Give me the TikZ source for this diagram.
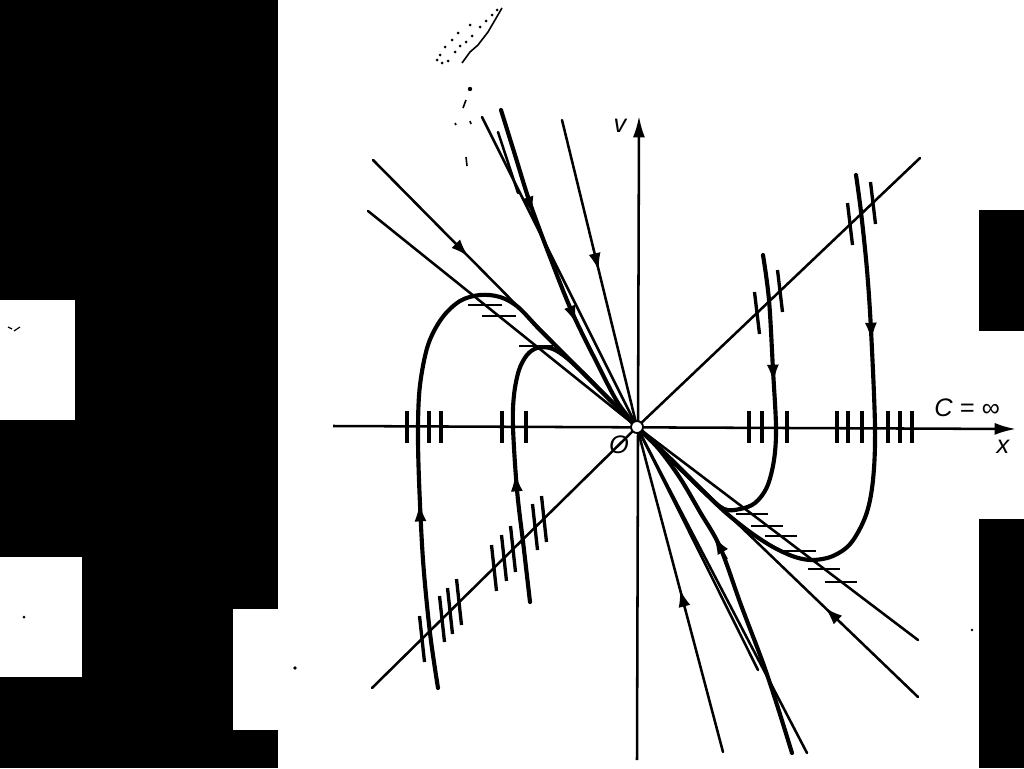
\documentclass[tikz,border=0pt]{standalone}
\usepackage{fontspec}
\newfontfamily\labfont{Liberation Sans}
\usetikzlibrary{arrows.meta,calc}
\begin{document}
\begin{tikzpicture}[x=0.75pt,y=-0.75pt,
  thinline/.style={line width=1.9pt,line cap=round},
  thickcurve/.style={line width=3.1pt,line cap=round,line join=round},
  axisline/.style={line width=1.9pt},
  vtick/.style={line width=2.5pt},
  htick/.style={line width=2.1pt},
  tipmark/.style={line width=1.4pt,-{Latex[length=13pt,width=9pt]}},
  axtip/.style={-{Latex[length=16pt,width=9pt]}},
  lab/.style={font=\labfont\fontsize{19}{22}\selectfont\itshape, inner sep=0pt},
  speck/.style={fill=black}]
\useasboundingbox (0,0) rectangle (1024,768);
% scan borders
\fill[black] (0,0) rectangle (278,768);
\fill[white] (0,300) rectangle (75,420);
\fill[white] (0,557) rectangle (82,677);
\fill[white] (233,609) rectangle (278,730);
\fill[black] (979,210) rectangle (1024,331);
\fill[black] (979,519) rectangle (1024,768);
% specks
\draw[line width=0.9pt] (8,327) -- (12,329) (14,331) -- (20,327);
\fill[speck] (24,617) circle (1.5);
\fill[speck] (295,668) circle (1.8);
\fill[speck] (972,630) circle (1.3);
\draw[line width=1.2pt] (462,63) -- (470,52) -- (478,45) -- (488,32) -- (495,20) -- (502,8);
\foreach \p in {(440,55),(445,47),(452,40),(458,33),(448,61),(455,52),(466,42),(472,36),(480,27),(486,21),(492,15),(497,10),(442,63),(470,25),(437,60),(460,46)}
  \fill[speck] \p circle (1.5);
\fill[speck] (470,89) circle (2.2);
\draw[line width=1.2pt] (466,100) -- (463,108) (455,123) -- (456,125) (470,121) -- (471,124) (466,157) -- (467,166);
% coordinates
\coordinate (o) at (637,427);
\coordinate (xl) at (333,426);
\coordinate (xr) at (1016,429);
\coordinate (vb) at (637,760);
\coordinate (vt) at (639,116);
\coordinate (d1) at (372,688);
\coordinate (d2) at (920,158);
\coordinate (a1) at (373,160);
\coordinate (a2) at (918,697);
\coordinate (b1) at (368,211);
\coordinate (b2) at (918,640);
\coordinate (t1) at (482,117);
\coordinate (t2) at (501,110);
\coordinate (t3) at (498,132);
\coordinate (t3e) at (518,193);
\coordinate (t4) at (562,120);
\coordinate (q1) at (723,752);
\coordinate (q2) at (792,753);
\coordinate (q3) at (807,753);
\coordinate (q4) at (758,670);
\coordinate (c1s) at (438,688);
\coordinate (c2s) at (530,602);
\coordinate (c3s) at (763,255);
\coordinate (c4s) at (856,175);
% axes
\draw[axisline,axtip] (xl) -- (xr);
\draw[axisline,axtip] (vb) -- (vt);
% isoclines and straight lines
\draw[thinline] (d1) -- (o) -- (d2);
\draw[thinline] (b1) -- (o) -- (b2);
\draw[thinline] (a1) -- (o) -- (a2);
\draw[thinline] (t1) -- (o);
\draw[thinline] (t3) -- (t3e);
\draw[thinline] (t4) -- (o);
\draw[thinline] (q1) -- (o);
\draw[thinline] (q3) -- (o);
\draw[thinline] (q4) -- (o);
% trajectories
\draw[thickcurve] plot[smooth,tension=0.55] coordinates {(t2) (515,155) (530,203) (550,257) (572,312) (598,365) (618,403) (o)};
\draw[thickcurve] plot[smooth,tension=0.55] coordinates {(q2) (778,708) (763,663) (741,605) (720,547) (700,512) (680,478) (658,448) (o)};
\draw[thickcurve] plot[smooth,tension=0.55] coordinates {(c1s) (430,633) (423,560) (419,480) (418,427) (420,385) (428,345) (442,318) (460,301) (480,295) (500,297) (518,307) (540,330) (570,360) (600,390) (o)};
\draw[thickcurve] plot[smooth,tension=0.55] coordinates {(c2s) (524,550) (517,490) (513,427) (514,395) (519,370) (527,355) (537,348) (550,348) (563,355) (580,370) (605,395) (o)};
\draw[thickcurve] plot[smooth,tension=0.55] coordinates {(c3s) (769,300) (773,370) (776,427) (774,460) (767,487) (755,503) (740,509) (724,509) (705,493) (675,463) (o)};
\draw[thickcurve] plot[smooth,tension=0.55] coordinates {(c4s) (861,212) (867,270) (871,330) (875,427) (873,480) (866,515) (851,543) (833,556) (813,560) (795,557) (773,547) (750,532) (725,512) (700,488) (670,459) (o)};
% direction arrows
\draw[tipmark] ($(a1)!0.30!(o)$) -- ($(a1)!0.36!(o)$);
\draw[tipmark] ($(o)!0.73!(a2)$) -- ($(o)!0.67!(a2)$);
\draw[tipmark] ($(t4)!0.42!(o)$) -- ($(t4)!0.49!(o)$);
\draw[tipmark] ($(q1)!0.43!(o)$) -- ($(q1)!0.50!(o)$);
\draw[tipmark] (524,186) -- (533,214);
\draw[tipmark] (566,297) -- (576,323);
\draw[tipmark] (727,559) -- (714,537);
\draw[tipmark] (421,530) -- (419.5,504);
\draw[tipmark] (517.5,500) -- (515.5,474);
\draw[tipmark] (772.5,355) -- (773.5,382);
\draw[tipmark] (870.5,313) -- (871.5,340);
% ticks on x-axis (C = infinity)
\foreach \x in {407,429,441,502,526,749,762,787,837,848,862,888,900,912}
  \draw[vtick] (\x,411) -- (\x,443);
% ticks on the diagonal isocline
\foreach \x/\y in {422/639,442/619,450/611,459/602,494/568,504/558,513/549,535/527,544/519}
  \draw[vtick] ($(\x,\y)+(-2.5,-23)$) -- ($(\x,\y)+(2.5,23)$);
\foreach \x/\y in {757/313,780/291,850/224,873/203}
  \draw[vtick] ($(\x,\y)+(-2.5,-21)$) -- ($(\x,\y)+(2.5,21)$);
% horizontal ticks on the C = 0 isocline
\foreach \x/\y in {485/305,499/316,536/346}
  \draw[htick] (\x-17,\y) -- (\x+17,\y);
\foreach \x/\y in {752/514,767/526,781/536,800/551,824/569,841/582}
  \draw[htick] (\x-16,\y) -- (\x+16,\y);
% origin
\node[circle,draw,fill=white,line width=1.4pt,minimum size=9pt,inner sep=0pt] (O) at (o) {};
% labels
\node[lab] (lv) at (620,126) {v};
\node[lab] (lO) at (619,445) {O};
\node[lab] (lx) at (1003,447) {x};
\node[lab] (lC) at (967,408) {C = ∞};
\end{tikzpicture}
\end{document}
